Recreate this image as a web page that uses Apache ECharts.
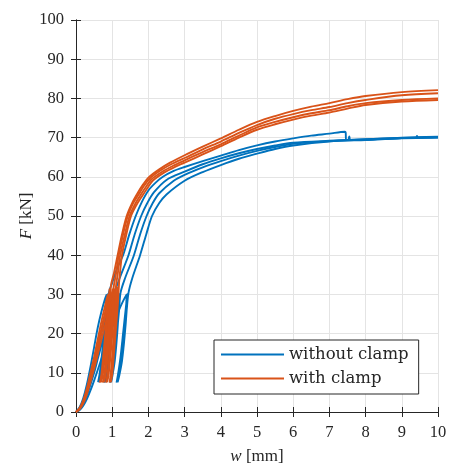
<!DOCTYPE html>
<html>
<head>
<meta charset="utf-8">
<script src="https://cdn.jsdelivr.net/npm/echarts@6/dist/echarts.min.js"></script>
<style>
html,body{margin:0;padding:0;background:#fff;}
#chart{width:449px;height:463px;}
</style>
</head>
<body>
<div id="chart"></div>
<script>
// Data: [w (mm), F (kN)]
const xTicks = [0,1,2,3,4,5,6,7,8,9,10];
const yTicks = [0,10,20,30,40,50,60,70,80,90,100];
const seriesNames = ['without clamp', 'with clamp'];

const blue1 = [[0,0],[0.1,1.2],[0.2,3.5],[0.3,7],[0.4,11.5],[0.5,16.5],[0.6,21.5],[0.7,25.5],[0.8,28.8],[0.85,30],
 [0.83,26],[0.78,19],[0.72,13],[0.66,9.5],[0.61,7.6],
 [0.65,9.5],[0.71,14],[0.77,20],[0.83,26],[0.88,30.2],
 [0.86,26],[0.81,19],[0.75,13],[0.69,9.5],[0.64,7.6],
 [0.68,9.5],[0.74,14],[0.8,20],[0.86,26],[0.91,30.5],
 [1.0,33],[1.15,37],[1.3,40],[1.48,45.5],[1.65,50],[1.82,53.6],[2.0,56.5],[2.2,58.5],[2.4,60],[2.7,61.5],[3,62.5],[3.5,64],[4,65.4],[4.5,66.8],[5,68.0],[5.5,69.0],[6,69.8],[6.5,70.5],[7,71.0],[7.43,71.5],[7.45,71.3],[7.46,69.4],
 [7.52,69.4],[7.55,70.3],[7.58,69.4],[8,69.5],[9,69.9],[9.4,70.0],[9.42,70.4],[9.44,70.0],[10,70.1]];
const blue2 = [[0,0],[0.1,0.8],[0.2,2.5],[0.3,5],[0.4,8.3],[0.5,12],[0.6,16],[0.7,20],[0.8,24],[0.9,27.5],[1.0,30],
 [0.98,26],[0.93,19],[0.87,13],[0.82,9.5],[0.78,7.5],
 [0.82,9.5],[0.88,14],[0.94,20],[1.0,26],[1.04,30.2],
 [1.02,26],[0.97,19],[0.91,13],[0.85,9.5],[0.81,7.6],
 [0.85,9.5],[0.91,14],[0.97,20],[1.03,26],[1.07,30.4],
 [1.2,34],[1.45,40],[1.62,45.3],[1.8,50],[1.97,53.3],[2.15,56],[2.5,59.2],[3,61.3],[3.5,63.2],[4,64.7],[4.5,66],[5,67.1],[5.5,68],[6,68.7],[7,69.2],[8,69.6],[9,70.0],[10,70.2]];
const blue3 = [[0,0],[0.1,0.6],[0.2,2],[0.3,4.2],[0.4,7],[0.5,10],[0.6,13.5],[0.7,17],[0.8,20.5],[0.9,23.5],[1.0,26],[1.1,28.5],[1.17,30],
 [1.15,26],[1.1,19],[1.04,13],[0.98,9.5],[0.94,7.5],
 [0.98,9.5],[1.04,14],[1.1,20],[1.16,26],[1.2,30.2],
 [1.18,26],[1.13,19],[1.07,13],[1.01,9.5],[0.97,7.6],
 [1.01,9.5],[1.07,14],[1.13,20],[1.19,26],[1.23,30.4],
 [1.35,34],[1.6,40],[1.77,45.3],[1.95,50],[2.12,53.3],[2.3,55.8],[2.7,59],[3,60.5],[3.5,62.4],[4,64.0],[4.5,65.4],[5,66.6],[5.5,67.6],[6,68.4],[7,69.1],[8,69.5],[9,69.9],[10,70.1]];
const blue4 = [[0,0],[0.1,0.5],[0.2,1.6],[0.3,3.3],[0.4,5.5],[0.5,8],[0.6,10.7],[0.7,13.5],[0.8,16.3],[0.9,19],[1.0,21.5],[1.1,24],[1.2,26.3],[1.3,28.3],[1.4,30],
 [1.38,26],[1.32,19],[1.25,13],[1.17,9.5],[1.12,7.5],
 [1.16,9.5],[1.23,14],[1.3,20],[1.37,26],[1.42,30.2],
 [1.4,26],[1.34,19],[1.27,13],[1.2,9.5],[1.15,7.6],
 [1.19,9.5],[1.26,14],[1.33,20],[1.4,26],[1.45,30.4],
 [1.55,34],[1.77,40],[1.94,45.3],[2.1,50],[2.3,53.3],[2.5,55.5],[3,59],[3.5,61.2],[4,63],[4.5,64.6],[5,65.9],[5.5,67.1],[6,68.0],[7,69.0],[8,69.4],[9,69.8],[10,70.0]];

const orange1 = [[0,0],[0.1,1],[0.2,3],[0.3,6],[0.4,10],[0.5,14],[0.6,18.5],[0.7,23],[0.8,27],[0.88,30],
 [0.86,26],[0.8,18],[0.74,12],[0.69,9],[0.66,7.5],
 [0.7,9.5],[0.76,15],[0.83,22],[0.89,28],[0.93,31.5],
 [0.91,27],[0.85,19],[0.78,12.5],[0.73,9],[0.69,7.6],
 [0.73,9.5],[0.79,15],[0.86,22],[0.92,28],[0.97,32.5],
 [1.05,35.5],[1.15,40],[1.27,45.3],[1.4,50],[1.55,53.3],[1.7,55.8],[1.85,58],[2.0,59.8],[2.3,61.9],[2.6,63.6],[3,65.5],[3.5,67.7],[4,69.8],[4.5,72.0],[5,74.0],[5.5,75.5],[6,76.8],[6.5,77.9],[7,78.8],[7.5,79.8],[8,80.6],[9,81.6],[10,82.1]];
const orange2 = [[0,0],[0.1,0.9],[0.2,2.7],[0.3,5.4],[0.4,9],[0.5,12.8],[0.6,17],[0.7,21.3],[0.8,25.3],[0.9,29],[0.95,30.5],
 [0.93,26],[0.87,18],[0.81,12],[0.77,9],[0.74,7.5],
 [0.78,9.5],[0.84,15],[0.91,22],[0.97,28],[1.01,31.5],
 [0.99,27],[0.93,19],[0.86,12.5],[0.81,9],[0.77,7.6],
 [0.81,9.5],[0.87,15],[0.94,22],[1.0,28],[1.05,32.5],
 [1.1,35],[1.18,40],[1.3,45.3],[1.43,50],[1.58,53.3],[1.73,55.5],[1.88,57.7],[2.03,59.5],[2.33,61.6],[2.63,63.2],[3,64.8],[3.5,67.0],[4,69.0],[4.5,71.2],[5,73.2],[5.5,74.8],[6,76.0],[6.5,77.0],[7,77.8],[7.5,78.8],[8,79.6],[9,80.8],[10,81.3]];
const orange3 = [[0,0],[0.1,0.8],[0.2,2.5],[0.3,5],[0.4,8.4],[0.5,12],[0.6,16],[0.7,20],[0.8,24],[0.9,27.5],[1.02,31],
 [1.0,26],[0.95,18],[0.9,12],[0.86,9],[0.83,7.5],
 [0.87,9.5],[0.93,15],[0.99,22],[1.04,28],[1.07,31.5],
 [1.05,27],[0.99,19],[0.93,12.5],[0.89,9],[0.86,7.6],
 [0.9,9.5],[0.96,15],[1.02,22],[1.07,28],[1.11,32.5],
 [1.15,35],[1.22,40],[1.35,45.3],[1.48,50],[1.63,53],[1.78,55.3],[1.93,57.4],[2.08,59.3],[2.38,61.3],[2.7,62.9],[3,64.2],[3.5,66.3],[4,68.3],[4.5,70.5],[5,72.6],[5.5,74.0],[6,75.2],[6.5,76.2],[7,77.0],[7.5,78.0],[8,78.8],[9,79.6],[10,80.0]];
const orange4 = [[0,0],[0.1,0.7],[0.2,2.2],[0.3,4.5],[0.4,7.6],[0.5,11],[0.6,14.6],[0.7,18.3],[0.8,22],[0.9,25.5],[1.0,28.5],[1.1,31.5],
 [1.08,26],[1.03,18],[0.98,12],[0.95,9],[0.93,7.5],
 [0.97,9.5],[1.02,15],[1.08,22],[1.13,28],[1.16,32],
 [1.14,27],[1.08,19],[1.02,12.5],[0.98,9],[0.96,7.6],
 [1.0,9.5],[1.05,15],[1.11,22],[1.16,28],[1.19,33],
 [1.22,36],[1.27,40],[1.39,45.3],[1.52,50],[1.67,52.8],[1.82,55],[1.97,57.1],[2.12,59],[2.42,61],[2.75,62.6],[3,63.6],[3.5,65.7],[4,67.8],[4.5,70.0],[5,72.0],[5.5,73.4],[6,74.6],[6.5,75.6],[7,76.4],[7.5,77.4],[8,78.3],[9,79.2],[10,79.6]];

const blueCurves = [blue1, blue2, blue3, blue4];
const orangeCurves = [orange1, orange2, orange3, orange4];

const BLUE = '#0072BD', ORANGE = '#D95319';
const AX = '#262626';
const serif = 'Liberation Serif';

const series = [];
blueCurves.forEach(d => series.push({
  name: seriesNames[0], type: 'line', data: d, showSymbol: false, symbol: 'none', smooth: 0.3,
  color: BLUE, lineStyle: {width: 1.9, color: BLUE}, animation: false, z: 2
}));
orangeCurves.forEach(d => series.push({
  name: seriesNames[1], type: 'line', data: d, showSymbol: false, symbol: 'none', smooth: 0.3,
  color: ORANGE, lineStyle: {width: 1.9, color: ORANGE}, animation: false, z: 3
}));

const labelStyle = {fontFamily: serif, fontSize: 16.5, color: AX};

const chart = echarts.init(document.getElementById('chart'), null, {renderer: 'canvas'});
chart.setOption({
  animation: false,
  backgroundColor: '#fff',
  grid: {left: 76, right: 11, top: 20, bottom: 51, containLabel: false, outerBoundsMode: 'none'},
  legend: {
    data: seriesNames,
    orient: 'vertical',
    left: 214, top: 340,
    icon: 'rect', itemWidth: 63, itemHeight: 2, itemGap: 7,
    padding: [6, 10, 7, 7],
    borderColor: AX, borderWidth: 1, backgroundColor: '#fff',
    textStyle: {fontFamily: 'DejaVu Serif', fontSize: 16.5, color: AX, lineHeight: 16},
    selectedMode: false
  },
  xAxis: [{
    type: 'value', min: xTicks[0], max: xTicks[xTicks.length-1], interval: 1,
    name: '{i|w} [mm]', nameLocation: 'middle', nameGap: 36,
    nameTextStyle: {fontFamily: serif, fontSize: 17, color: AX, rich: {i: {fontFamily: serif, fontStyle: 'italic', fontSize: 17, color: AX}}},
    axisLine: {show: true, lineStyle: {color: AX, width: 1}},
    axisTick: {show: true, inside: true, length: 5, lineStyle: {color: AX}},
    axisLabel: Object.assign({margin: 12}, labelStyle),
    splitLine: {show: true, lineStyle: {color: '#e4e4e4', width: 1}}
  }, {
    type: 'value', position: 'top', min: 0, max: 10, interval: 1,
    axisLine: {show: true, lineStyle: {color: AX, width: 1}},
    axisTick: {show: true, inside: true, length: 5, lineStyle: {color: AX}},
    axisLabel: {show: false}, splitLine: {show: false}
  }],
  yAxis: [{
    type: 'value', min: yTicks[0], max: yTicks[yTicks.length-1], interval: 10,
    name: '{i|F} [kN]', nameLocation: 'middle', nameGap: 41, nameRotate: 90, nameMoveOverlap: false,
    nameTextStyle: {fontFamily: serif, fontSize: 17, color: AX, rich: {i: {fontFamily: serif, fontStyle: 'italic', fontSize: 17, color: AX}}},
    axisLine: {show: true, lineStyle: {color: AX, width: 1}},
    axisTick: {show: true, inside: true, length: 5, lineStyle: {color: AX}},
    axisLabel: Object.assign({margin: 12}, labelStyle),
    splitLine: {show: true, lineStyle: {color: '#e4e4e4', width: 1}}
  }, {
    type: 'value', position: 'right', min: 0, max: 100, interval: 10,
    axisLine: {show: true, lineStyle: {color: AX, width: 1}},
    axisTick: {show: true, inside: true, length: 5, lineStyle: {color: AX}},
    axisLabel: {show: false}, splitLine: {show: false}
  }],
  series: series
});
</script>
</body>
</html>
